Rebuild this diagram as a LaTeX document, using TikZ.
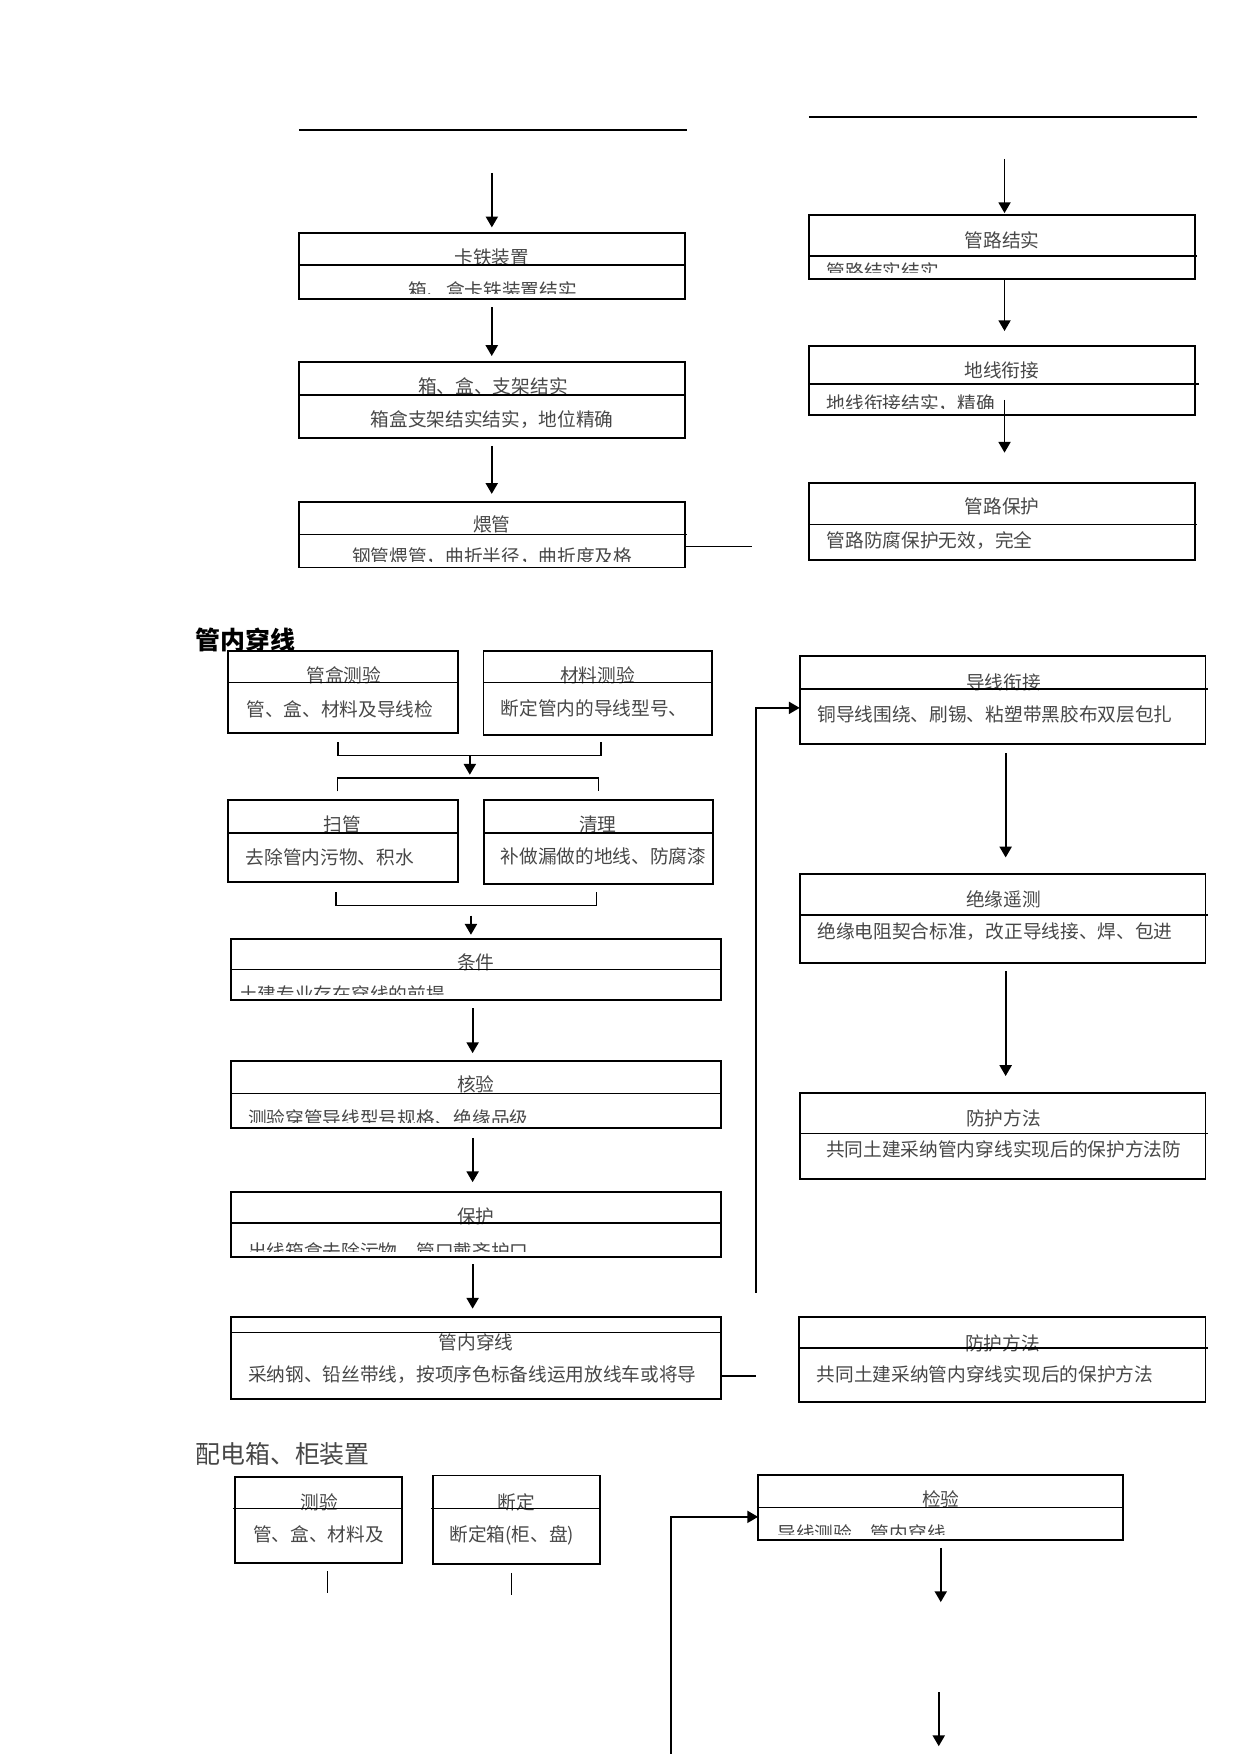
\documentclass[tikz,border=0pt]{standalone}
\usepackage{fontspec}
\newfontfamily\cjk{Noto Sans CJK SC}
\usetikzlibrary{arrows.meta,calc}

\tikzset{
  box/.style={draw, line width=0.9pt, inner sep=0pt, outer sep=0pt},
  divline/.style={line width=0.6pt},
  hline/.style={line width=0.5pt},
  brk/.style={line width=0.8pt},
  arr/.style={-{Triangle[width=5.8pt,length=5.2pt]}, line width=0.9pt},
  txt/.style={anchor=base, inner sep=0pt, text=black!72, font=\cjk\fontsize{9pt}{11pt}\selectfont},
  ltxt/.style={txt, anchor=base west},
  sectitle/.style={anchor=base west, inner sep=0pt, font=\cjk\fontsize{12pt}{14pt}\selectfont}
}

\begin{document}
\begin{tikzpicture}[x=0.18936mm, y=-0.18936mm]
  \useasboundingbox (0,0) rectangle (1109,1568);

  % top rules
  \coordinate (tl-a) at (267.2,116.2);
  \coordinate (tl-b) at (614,116.2);
  \coordinate (tr-a) at (723,104.6);
  \coordinate (tr-b) at (1069.7,104.6);
  \draw[hline] (tl-a) -- (tl-b);
  \draw[hline] (tr-a) -- (tr-b);

  % left column
  \node[box, minimum width=6.537cm, minimum height=1.112cm] (kati) at (439.6,237.9) {};
  \node[box, minimum width=6.537cm, minimum height=1.286cm] (xianghe) at (439.6,357.5) {};
  \node[box, minimum width=6.537cm, minimum height=1.112cm] (weiguan) at (439.6,478) {};

  \node[txt] (kati-h) at (439.7,236.8) {卡铁装置};
  \begin{scope}
    \clip ([yshift=1mm]kati.south west) rectangle (kati.north east);
    \node[txt] (kati-b) at (440.6,265.6) {箱、盒卡铁装置结实};
  \end{scope}
  \node[txt] (xianghe-h) at (440.7,352) {箱、盒、支架结实};
  \node[txt] (xianghe-b) at (440,381) {箱盒支架结实结实，地位精确};
  \node[txt] (weiguan-h) at (439.7,475.4) {煨管};
  \begin{scope}
    \clip ([yshift=1mm]weiguan.south west) rectangle (weiguan.north east);
    \node[txt] (weiguan-b) at (440,504) {钢管煨管，曲折半径，曲折度及格};
  \end{scope}

  \draw[divline, shorten >=-0.5pt] (kati.west |- 0,236.8) -- (kati.east |- 0,236.8);
  \draw[divline] (xianghe.west |- 0,353) -- (xianghe.east |- 0,353);
  \draw[divline, shorten >=-1pt] (weiguan.west |- 0,478.1) -- (weiguan.east |- 0,478.1);

  \coordinate (in-l) at (439.7,154.6);
  \draw[arr, shorten >=1mm] (in-l) -- (in-l |- kati.north);
  \draw[arr, shorten <=1.4mm, shorten >=1mm] (kati) -- (xianghe);
  \draw[arr, shorten <=1.35mm, shorten >=1.35mm] (xianghe) -- (weiguan);
  \coordinate (w-end) at (672.6,488.5);
  \draw[brk] (weiguan.east |- w-end) -- (w-end);

  % right column
  \node[box, minimum width=6.531cm, minimum height=1.083cm] (guanlu) at (895.5,220.7) {};
  \node[box, minimum width=6.531cm, minimum height=1.168cm] (dixian) at (895.5,340) {};
  \node[box, minimum width=6.531cm, minimum height=1.303cm] (baohu) at (895.5,466) {};

  \node[txt] (guanlu-h) at (896,221) {管路结实};
  \begin{scope}
    \clip ([yshift=1mm]guanlu.south west) rectangle (guanlu.north east);
    \node[ltxt] (guanlu-b) at (738.8,248.6) {管路结实结实};
  \end{scope}
  \node[txt] (dixian-h) at (895.7,337.7) {地线衔接};
  \begin{scope}
    \clip ([yshift=1mm]dixian.south west) rectangle (dixian.north east);
    \node[ltxt] (dixian-b) at (738.8,367) {地线衔接结实，精确};
  \end{scope}
  \node[txt] (baohu-h) at (896,459) {管路保护};
  \node[ltxt] (baohu-b) at (738.8,489.6) {管路防腐保护无效，完全};

  \draw[divline, shorten >=-1pt] (guanlu.west |- 0,228.8) -- (guanlu.east |- 0,228.8);
  \draw[divline, shorten >=-2pt] (dixian.west |- 0,343.2) -- (dixian.east |- 0,343.2);
  \draw[divline, shorten >=-1pt] (baohu.west |- 0,469.2) -- (baohu.east |- 0,469.2);

  \coordinate (in-r) at (898,142);
  \draw[arr, shorten >=0.3mm] (in-r) -- (in-r |- guanlu.north);
  \draw[arr, shorten <=0.2mm, shorten >=2.5mm] (in-r |- guanlu.south) -- (in-r |- dixian.north);
  \draw[arr, shorten <=-2.55mm, shorten >=5.1mm] (in-r |- dixian.south) -- (in-r |- baohu.north);

  % 管内穿线
  \node[sectitle, font=\cjk\bfseries\fontsize{12pt}{14pt}\selectfont] (sec-a) at (174.5,580.5) {管内穿线};

  \node[box, minimum width=3.893cm, minimum height=1.386cm] (guanhe) at (306.7,618.4) {};
  \node[box, minimum width=3.867cm, minimum height=1.420cm] (cailiao) at (534.3,619.3) {};
  \node[box, minimum width=3.893cm, minimum height=1.382cm] (saoguan) at (306.7,752) {};
  \node[box, minimum width=3.867cm, minimum height=1.411cm] (qingli) at (534.9,752.8) {};
  \node[box, minimum width=8.292cm, minimum height=1.045cm] (tiaojian) at (425.5,866.7) {};
  \node[box, minimum width=8.292cm, minimum height=1.134cm] (heyan) at (425.5,978.8) {};
  \node[box, minimum width=8.292cm, minimum height=1.102cm] (baohu2) at (425.5,1094.9) {};
  \node[box, minimum width=8.292cm, minimum height=1.380cm] (chuanxian) at (425.5,1214) {};

  \node[txt] (guanhe-h) at (307.5,610.1) {管盒测验};
  \node[ltxt] (guanhe-b) at (219.9,640.2) {管、盒、材料及导线检};
  \node[txt] (cailiao-h) at (534.3,610.1) {材料测验};
  \node[ltxt] (cailiao-b) at (447.2,639.4) {断定管内的导线型号、};
  \node[txt] (saoguan-h) at (306.1,743.7) {扫管};
  \node[ltxt] (saoguan-b) at (219.3,772.7) {去除管内污物、积水};
  \node[txt] (qingli-h) at (534.3,743.7) {清理};
  \node[ltxt] (qingli-b) at (447.2,772) {补做漏做的地线、防腐漆};
  \node[txt] (tiaojian-h) at (425.4,866.5) {条件};
  \begin{scope}
    \clip ([yshift=1mm]tiaojian.south west) rectangle (tiaojian.north east);
    \node[ltxt] (tiaojian-b) at (213.5,895.6) {土建专业存在穿线的前提};
  \end{scope}
  \node[txt] (heyan-h) at (425.4,976) {核验};
  \begin{scope}
    \clip ([yshift=1mm]heyan.south west) rectangle (heyan.north east);
    \node[ltxt] (heyan-b) at (221.5,1006) {测验穿管导线型号规格、绝缘品级};
  \end{scope}
  \node[txt] (baohu2-h) at (425.4,1094.1) {保护};
  \begin{scope}
    \clip ([yshift=1mm]baohu2.south west) rectangle (baohu2.north east);
    \node[ltxt] (baohu2-b) at (221.5,1125) {出线箱盒去除污物，管口戴齐护口};
  \end{scope}
  \node[txt] (chuanxian-h) at (425.7,1206.4) {管内穿线};
  \node[ltxt] (chuanxian-b) at (221.5,1235.2) {采纳钢、铅丝带线，按项序色标备线运用放线车或将导};

  \draw[divline] (guanhe.west |- 0,609.8) -- (guanhe.east |- 0,609.8);
  \draw[divline] (cailiao.west |- 0,609.8) -- (cailiao.east |- 0,609.8);
  \draw[divline] (saoguan.west |- 0,744.7) -- (saoguan.east |- 0,744.7);
  \draw[divline] (qingli.west |- 0,744.7) -- (qingli.east |- 0,744.7);
  \draw[divline] (tiaojian.west |- 0,866.8) -- (tiaojian.east |- 0,866.8);
  \draw[divline] (heyan.west |- 0,977.7) -- (heyan.east |- 0,977.7);
  \draw[divline] (baohu2.west |- 0,1093.2) -- (baohu2.east |- 0,1093.2);
  \draw[divline] (chuanxian.west |- 0,1191.5) -- (chuanxian.east |- 0,1191.5);

  \coordinate (b1l) at (302.2,663.4);
  \coordinate (b1r) at (537.5,663.4);
  \coordinate (b1m) at (420,675.3);
  \draw[brk] (b1l) |- (b1r |- b1m) -- (b1r);
  \draw[arr] (b1m) -- ++(0,17.3);
  \coordinate (b2l) at (301.6,707.5);
  \coordinate (b2r) at (534.9,707.5);
  \draw[hline] (b2l) |- (b2r |- 0,695.5) -- (b2r);
  \coordinate (b3l) at (300.4,797.4);
  \coordinate (b3r) at (533.3,797.4);
  \draw[brk] (b3l) |- (b3r |- 0,809.4) -- (b3r);
  \coordinate (b3m) at (421,818.6);
  \draw[arr, shorten >=0.66mm] (b3m) -- (b3m |- tiaojian.north);

  \coordinate (mc) at (422.5,0);
  \draw[arr, shorten <=1.3mm, shorten >=1.4mm] (mc |- tiaojian.south) -- (mc |- heyan.north);
  \draw[arr, shorten <=1.6mm, shorten >=1.7mm] (mc |- heyan.south) -- (mc |- baohu2.north);
  \draw[arr, shorten <=1.2mm, shorten >=1.45mm] (mc |- baohu2.south) -- (mc |- chuanxian.north);
  \coordinate (c-end) at (675.6,1230.3);
  \draw[brk] (chuanxian.east |- c-end) -- (c-end);

  % right middle column
  \node[box, minimum width=6.870cm, minimum height=1.498cm] (daoxian) at (896.3,625.9) {};
  \node[box, minimum width=6.870cm, minimum height=1.500cm] (jueyuan) at (896.3,821.2) {};
  \node[box, minimum width=6.870cm, minimum height=1.462cm] (fanghu1) at (896.3,1015.3) {};
  \node[box, minimum width=6.881cm, minimum height=1.445cm] (fanghu2) at (896,1215.4) {};

  \node[txt] (daoxian-h) at (897,616) {导线衔接};
  \node[ltxt] (daoxian-b) at (730.4,644.6) {铜导线围绕、刷锡、粘塑带黑胶布双层包扎};
  \node[txt] (jueyuan-h) at (897,810.5) {绝缘遥测};
  \node[ltxt] (jueyuan-b) at (730.4,839.3) {绝缘电阻契合标准，改正导线接、焊、包进};
  \node[txt] (fanghu1-h) at (897,1005.7) {防护方法};
  \node[ltxt] (fanghu1-b) at (738.2,1034) {共同土建采纳管内穿线实现后的保护方法防};
  \node[txt] (fanghu2-h) at (896.3,1207) {防护方法};
  \node[ltxt] (fanghu2-b) at (729.8,1235.4) {共同土建采纳管内穿线实现后的保护方法};

  \draw[divline, shorten >=-1pt] (daoxian.west |- 0,616) -- (daoxian.east |- 0,616);
  \draw[divline, shorten >=-1pt] (jueyuan.west |- 0,818) -- (jueyuan.east |- 0,818);
  \draw[divline, shorten >=-1pt] (fanghu1.west |- 0,1013.3) -- (fanghu1.east |- 0,1013.3);
  \draw[divline, shorten >=-1pt] (fanghu2.west |- 0,1205) -- (fanghu2.east |- 0,1205);

  \coordinate (rc) at (899,0);
  \draw[arr, shorten <=1.5mm, shorten >=2.85mm] (rc |- daoxian.south) -- (rc |- jueyuan.north);
  \draw[arr, shorten <=1.4mm, shorten >=2.8mm] (rc |- jueyuan.south) -- (rc |- fanghu1.north);
  \coordinate (fb1) at (675.5,1155.8);
  \draw[arr] (fb1) |- (daoxian.west |- 0,632.8);

  % 配电箱、柜装置
  \node[sectitle, text=black!72] (sec-b) at (174.3,1308) {配电箱、柜装置};

  \node[box, minimum width=2.831cm, minimum height=1.454cm] (ceyan) at (284.8,1358.6) {};
  \node[box, minimum width=2.820cm, minimum height=1.496cm] (duanding) at (461.8,1358.5) {};
  \node[box, minimum width=6.177cm, minimum height=1.102cm] (jianyan) at (840.8,1347.8) {};

  \node[txt] (ceyan-h) at (285.5,1349.6) {测验};
  \node[ltxt] (ceyan-b) at (225.8,1377.6) {管、盒、材料及};
  \node[txt] (duanding-h) at (461.3,1349.6) {断定};
  \node[ltxt] (duanding-b) at (401.5,1377.6) {断定箱(柜、盘)};
  \node[txt] (jianyan-h) at (841,1346.4) {检验};
  \begin{scope}
    \clip ([yshift=1mm]jianyan.south west) rectangle (jianyan.north east);
    \node[ltxt] (jianyan-b) at (694.7,1376.7) {导线测验，管内穿线};
  \end{scope}

  \draw[divline, shorten <=-1pt] (ceyan.west |- 0,1348.5) -- (ceyan.east |- 0,1348.5);
  \draw[divline, shorten <=-1pt] (duanding.west |- 0,1348.5) -- (duanding.east |- 0,1348.5);
  \draw[divline] (jianyan.west |- 0,1347.3) -- (jianyan.east |- 0,1347.3);

  \coordinate (c1) at (292.8,1404.6);
  \coordinate (c2) at (457.2,1406);
  \draw[hline] (c1) -- ++(0,19.3);
  \draw[brk] (c2) -- ++(0,20);

  \coordinate (fb2) at (600.2,1568);
  \draw[arr] (fb2) |- (jianyan.west |- 0,1356);
  \coordinate (j1) at (841,1432.2);
  \draw[arr, shorten <=1.3mm] (j1 |- jianyan.south) -- (j1);
  \coordinate (j2a) at (839.2,1512.7);
  \coordinate (j2b) at (839.2,1561);
  \draw[arr] (j2a) -- (j2b);
\end{tikzpicture}
\end{document}
